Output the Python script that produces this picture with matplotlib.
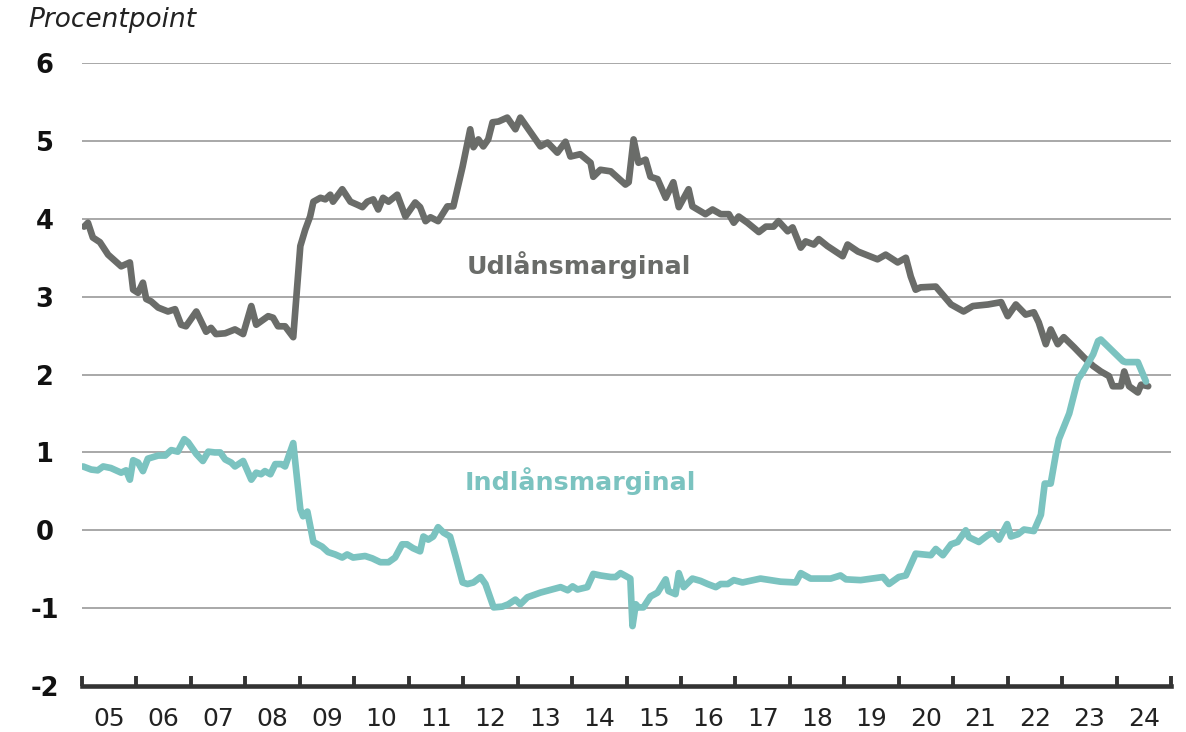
"""
Udlåns- og indlånsmarginal, 2005-2024
"""

import matplotlib
matplotlib.use("Agg")
import matplotlib.pyplot as plt
from matplotlib.ticker import FixedLocator, NullFormatter

# Udlånsmarginal (decimal year, percentage points)
lend_x = [2005.04, 2005.11, 2005.20, 2005.33, 2005.48, 2005.72, 2005.88, 2005.94,
          2006.03, 2006.12, 2006.18, 2006.27, 2006.40, 2006.58, 2006.71, 2006.82,
          2006.91, 2007.10, 2007.28, 2007.37, 2007.46, 2007.63, 2007.81, 2007.96,
          2008.11, 2008.20, 2008.42, 2008.51, 2008.60, 2008.73, 2008.88, 2009.01,
          2009.10, 2009.19, 2009.25, 2009.38, 2009.47, 2009.56, 2009.61, 2009.78,
          2009.93, 2010.06, 2010.15, 2010.24, 2010.35, 2010.44, 2010.53, 2010.63,
          2010.79, 2010.94, 2011.12, 2011.21, 2011.31, 2011.40, 2011.54, 2011.71,
          2011.82, 2011.99, 2012.13, 2012.19, 2012.28, 2012.37, 2012.46, 2012.54,
          2012.65, 2012.81, 2012.96, 2013.05, 2013.24, 2013.42, 2013.55, 2013.73,
          2013.88, 2013.97, 2014.15, 2014.34, 2014.39, 2014.52, 2014.71, 2014.98,
          2015.04, 2015.13, 2015.22, 2015.35, 2015.44, 2015.57, 2015.72, 2015.86,
          2015.96, 2016.14, 2016.21, 2016.45, 2016.58, 2016.73, 2016.88, 2016.97,
          2017.06, 2017.22, 2017.43, 2017.56, 2017.70, 2017.79, 2017.96, 2018.05,
          2018.20, 2018.29, 2018.44, 2018.53, 2018.69, 2018.97, 2019.06, 2019.25,
          2019.61, 2019.76, 2019.98, 2020.13, 2020.22, 2020.31, 2020.40, 2020.68,
          2020.96, 2021.19, 2021.36, 2021.64, 2021.88, 2022.00, 2022.15, 2022.33,
          2022.48, 2022.57, 2022.70, 2022.79, 2022.92, 2023.03, 2023.22, 2023.40,
          2023.57, 2023.71, 2023.86, 2023.93, 2024.08, 2024.14, 2024.23, 2024.39,
          2024.45, 2024.58]
lend_y = [3.90, 3.95, 3.76, 3.70, 3.54, 3.39, 3.44, 3.09,
          3.05, 3.18, 2.97, 2.94, 2.86, 2.81, 2.84, 2.64,
          2.62, 2.81, 2.55, 2.60, 2.52, 2.53, 2.58, 2.52,
          2.88, 2.64, 2.75, 2.73, 2.62, 2.62, 2.48, 3.65,
          3.86, 4.03, 4.22, 4.27, 4.25, 4.31, 4.22, 4.38,
          4.22, 4.18, 4.15, 4.22, 4.25, 4.12, 4.27, 4.22,
          4.31, 4.03, 4.21, 4.15, 3.97, 4.02, 3.97, 4.16,
          4.16, 4.67, 5.15, 4.92, 5.02, 4.93, 5.02, 5.24,
          5.25, 5.30, 5.15, 5.30, 5.11, 4.93, 4.98, 4.85,
          4.99, 4.80, 4.83, 4.72, 4.54, 4.63, 4.61, 4.44,
          4.47, 5.02, 4.72, 4.76, 4.54, 4.51, 4.27, 4.47,
          4.15, 4.38, 4.16, 4.06, 4.12, 4.06, 4.06, 3.95,
          4.03, 3.95, 3.83, 3.90, 3.90, 3.97, 3.84, 3.89,
          3.63, 3.71, 3.67, 3.74, 3.65, 3.52, 3.67, 3.58,
          3.48, 3.54, 3.44, 3.50, 3.26, 3.09, 3.12, 3.13,
          2.90, 2.81, 2.88, 2.90, 2.93, 2.75, 2.90, 2.77,
          2.80, 2.67, 2.39, 2.58, 2.39, 2.48, 2.35, 2.22,
          2.11, 2.04, 1.98, 1.85, 1.85, 2.04, 1.85, 1.77,
          1.87, 1.85]

# Indlånsmarginal (decimal year, percentage points)
dep_x = [2005.02, 2005.17, 2005.29, 2005.39, 2005.53, 2005.72, 2005.81, 2005.88,
         2005.94, 2006.03, 2006.12, 2006.21, 2006.40, 2006.53, 2006.64, 2006.76,
         2006.88, 2006.95, 2007.10, 2007.22, 2007.32, 2007.44, 2007.54, 2007.63,
         2007.74, 2007.81, 2007.96, 2008.11, 2008.20, 2008.29, 2008.36, 2008.46,
         2008.55, 2008.66, 2008.73, 2008.88, 2009.01, 2009.06, 2009.14, 2009.25,
         2009.41, 2009.52, 2009.65, 2009.78, 2009.87, 2009.98, 2010.20, 2010.33,
         2010.48, 2010.63, 2010.75, 2010.88, 2010.97, 2011.08, 2011.21, 2011.27,
         2011.36, 2011.45, 2011.54, 2011.64, 2011.76, 2011.86, 2011.99, 2012.08,
         2012.19, 2012.32, 2012.41, 2012.56, 2012.72, 2012.83, 2012.96, 2013.05,
         2013.18, 2013.42, 2013.79, 2013.92, 2014.01, 2014.10, 2014.28, 2014.39,
         2014.52, 2014.71, 2014.80, 2014.89, 2015.07, 2015.11, 2015.17, 2015.22,
         2015.31, 2015.44, 2015.57, 2015.72, 2015.77, 2015.90, 2015.96, 2016.05,
         2016.21, 2016.36, 2016.49, 2016.64, 2016.73, 2016.86, 2016.97, 2017.13,
         2017.33, 2017.46, 2017.83, 2018.11, 2018.20, 2018.38, 2018.75, 2018.93,
         2019.03, 2019.30, 2019.71, 2019.82, 2020.00, 2020.13, 2020.31, 2020.46,
         2020.59, 2020.68, 2020.81, 2020.96, 2021.08, 2021.23, 2021.29, 2021.47,
         2021.64, 2021.73, 2021.84, 2021.99, 2022.06, 2022.19, 2022.30, 2022.48,
         2022.61, 2022.68, 2022.79, 2022.89, 2022.94, 2023.13, 2023.29, 2023.38,
         2023.57, 2023.66, 2023.71, 2023.90, 2024.12, 2024.17, 2024.39, 2024.54]
dep_y = [0.82, 0.78, 0.77, 0.82, 0.80, 0.74, 0.77, 0.65,
         0.90, 0.87, 0.76, 0.92, 0.96, 0.96, 1.03, 1.01,
         1.17, 1.13, 0.98, 0.89, 1.01, 1.00, 1.00, 0.91,
         0.87, 0.82, 0.89, 0.65, 0.74, 0.72, 0.76, 0.72,
         0.85, 0.85, 0.82, 1.12, 0.27, 0.18, 0.24, -0.15,
         -0.21, -0.28, -0.31, -0.35, -0.31, -0.35, -0.33, -0.36,
         -0.41, -0.41, -0.35, -0.18, -0.18, -0.23, -0.27, -0.08,
         -0.12, -0.08, 0.04, -0.03, -0.08, -0.33, -0.67, -0.69,
         -0.67, -0.60, -0.69, -0.99, -0.98, -0.95, -0.89, -0.95,
         -0.86, -0.80, -0.73, -0.77, -0.72, -0.76, -0.73, -0.56,
         -0.58, -0.60, -0.60, -0.55, -0.62, -1.23, -0.95, -0.99,
         -0.99, -0.85, -0.80, -0.63, -0.78, -0.82, -0.55, -0.73,
         -0.62, -0.65, -0.69, -0.73, -0.69, -0.69, -0.64, -0.67,
         -0.64, -0.62, -0.66, -0.67, -0.55, -0.62, -0.62, -0.58,
         -0.63, -0.64, -0.60, -0.69, -0.60, -0.58, -0.30, -0.31,
         -0.32, -0.24, -0.32, -0.18, -0.15, 0.00, -0.09, -0.15,
         -0.06, -0.03, -0.12, 0.08, -0.08, -0.05, 0.01, -0.01,
         0.20, 0.60, 0.60, 1.00, 1.17, 1.50, 1.94, 2.03,
         2.26, 2.43, 2.45, 2.32, 2.17, 2.16, 2.16, 1.91]

years = list(range(2005, 2025))
year_labels = [f"{y % 100:02d}" for y in years]
y_ticks = [-2, -1, 0, 1, 2, 3, 4, 5, 6]

GRAY = "#6a6c69"
TEAL = "#7bc3c0"
FONT = "DejaVu Sans"


def main():
    fig = plt.figure(figsize=(11.86, 7.32), dpi=100)
    ax = fig.add_axes([0.0691, 0.0628, 0.9183, 0.851])

    ax.plot(lend_x, lend_y, color=GRAY, linewidth=4.8, solid_joinstyle="round",
            solid_capstyle="round", zorder=3)
    ax.plot(dep_x, dep_y, color=TEAL, linewidth=4.8, solid_joinstyle="round",
            solid_capstyle="round", zorder=4)

    ax.set_xlim(2005, 2025)
    ax.set_ylim(-2, 6)

    # horizontal gridlines
    for v in y_ticks[1:]:
        ax.axhline(v, color="#9a9a9a", linewidth=1.2, zorder=1)

    for side in ["top", "left", "right"]:
        ax.spines[side].set_visible(False)
    ax.spines["bottom"].set_color("#333333")
    ax.spines["bottom"].set_linewidth(3.3)
    ax.spines["bottom"].set_zorder(5)

    # year boundaries as ticks, labels at mid-year
    ax.xaxis.set_major_locator(FixedLocator(list(range(2005, 2026))))
    ax.xaxis.set_major_formatter(NullFormatter())
    ax.xaxis.set_minor_locator(FixedLocator([y + 0.5 for y in years]))
    ax.set_xticklabels(year_labels, minor=True)
    ax.tick_params(axis="x", which="major", direction="in", length=7,
                   width=2.8, color="#333333")
    ax.tick_params(axis="x", which="minor", length=0, pad=15,
                   labelsize=18, labelcolor="#222222")
    for lab in ax.get_xticklabels(minor=True):
        lab.set_fontfamily(FONT)

    ax.set_yticks(y_ticks)
    ax.set_yticklabels([str(v) for v in y_ticks])
    ax.tick_params(axis="y", length=0, pad=27, labelsize=18.5,
                   labelcolor="#111111")
    for lab in ax.get_yticklabels():
        lab.set_fontfamily(FONT)
        lab.set_fontweight("bold")
        lab.set_horizontalalignment("center")

    ax.text(2014.12, 3.41, "Udlånsmarginal", color=GRAY, fontsize=18.3,
            fontweight="bold", family=FONT, ha="center", va="center")
    ax.text(2014.15, 0.63, "Indlånsmarginal", color=TEAL, fontsize=18.3,
            fontweight="bold", family=FONT, ha="center", va="center")

    fig.text(0.0236, 0.973, "Procentpoint", fontsize=19, style="italic",
             family=FONT, color="#222222", ha="left", va="center")

    fig.savefig("out.png", dpi=100)
    plt.close(fig)


if __name__ == "__main__":
    main()
